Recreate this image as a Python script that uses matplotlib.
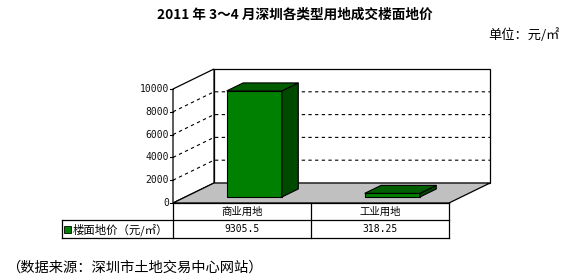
import matplotlib
matplotlib.use("Agg")
import matplotlib.pyplot as plt
from matplotlib.patches import Polygon, Rectangle

plt.rcParams['font.family'] = ['Noto Sans CJK SC', 'DejaVu Sans']

# ---- data ----
title = '2011 年 3～4 月深圳各类型用地成交楼面地价'
unit_text = '单位：元/㎡'
source_text = '（数据来源：深圳市土地交易中心网站）'
series_name = '楼面地价（元/㎡）'
categories = ['商业用地', '工业用地']
prices = [9305.5, 318.25]
y_ticks = [0, 2000, 4000, 6000, 8000, 10000]
y_max = 10000

# ---- layout (pixels) ----
W, H = 573, 280
X0, X1 = 173, 449          # front edge of the floor
Y0 = 203                   # front baseline (value 0)
PLOT_H = 114               # height of the value range
DX, DY = 41, -20           # depth offset of the back wall
BAR_W = 0.40               # bar width as fraction of a category slot
BAR_D0, BAR_D1 = 0.30, 0.70  # bar depth range (fraction of floor depth)

FRONT = '#008000'
TOP = '#005e00'
SIDE = '#004a00'
FLOOR = '#c0c0c0'

fig = plt.figure(figsize=(W / 100, H / 100), dpi=100)
ax = fig.add_axes([0, 0, 1, 1])
ax.set_xlim(0, W)
ax.set_ylim(H, 0)
ax.axis('off')

n = len(categories)
slot = (X1 - X0) / n


def proj(xpix, value, depth):
    """Map a front x position, a value and a depth fraction to pixels."""
    return (xpix + depth * DX, Y0 - value / y_max * PLOT_H + depth * DY)


# back wall
bl = proj(X0, 0, 1); br = proj(X1, 0, 1)
tl = proj(X0, y_max, 1); tr = proj(X1, y_max, 1)
ax.add_patch(Polygon([bl, br, tr, tl], closed=True, facecolor='white',
                     edgecolor='black', lw=0.9, zorder=1))
# left wall
fl0 = proj(X0, 0, 0); fl1 = proj(X0, y_max, 0)
ax.add_patch(Polygon([fl0, bl, tl, fl1], closed=True, facecolor='white',
                     edgecolor='black', lw=0.9, zorder=1))
# floor
fr0 = proj(X1, 0, 0)
ax.add_patch(Polygon([fl0, fr0, br, bl], closed=True, facecolor=FLOOR,
                     edgecolor='black', lw=0.9, zorder=2))

# gridlines on side and back walls, ticks and labels on the front axis
for v in y_ticks:
    a = proj(X0, v, 0); b = proj(X0, v, 1); c = proj(X1, v, 1)
    if 0 < v < y_max:
        ax.plot([a[0], b[0], c[0]], [a[1], b[1], c[1]], color='black',
                lw=0.8, linestyle=(0, (3, 3)), zorder=2)
    ax.plot([a[0] - 3, a[0]], [a[1], a[1]], color='black', lw=0.8, zorder=3)
    ax.text(a[0] - 4, a[1], f'{v}', ha='right', va='center',
            fontsize=7, family='DejaVu Sans Mono', color='#111111')

# bars
for i, v in enumerate(prices):
    cx = X0 + (i + 0.5) * slot
    xl = cx - BAR_W * slot / 2
    xr = cx + BAR_W * slot / 2
    p_fl = proj(xl, 0, BAR_D0); p_fr = proj(xr, 0, BAR_D0)
    p_tl = proj(xl, v, BAR_D0); p_tr = proj(xr, v, BAR_D0)
    q_br = proj(xr, 0, BAR_D1); q_tr = proj(xr, v, BAR_D1)
    q_tl = proj(xl, v, BAR_D1)
    ax.add_patch(Polygon([p_fl, p_fr, p_tr, p_tl], closed=True,
                         facecolor=FRONT, edgecolor='black', lw=0.8, zorder=5))
    ax.add_patch(Polygon([p_fr, q_br, q_tr, p_tr], closed=True,
                         facecolor=SIDE, edgecolor='black', lw=0.8, zorder=5))
    ax.add_patch(Polygon([p_tl, p_tr, q_tr, q_tl], closed=True,
                         facecolor=TOP, edgecolor='black', lw=0.8, zorder=5))

# data table under the chart
T_TOP, T_MID, T_BOT = Y0, 220, 238
T_LEFT = 62
lk = dict(color='black', lw=0.9, zorder=6)
ax.plot([X0, X1], [T_TOP, T_TOP], **lk)
ax.plot([T_LEFT, X1], [T_MID, T_MID], **lk)
ax.plot([T_LEFT, X1], [T_BOT, T_BOT], **lk)
ax.plot([T_LEFT, T_LEFT], [T_MID, T_BOT], **lk)
for k in range(n + 1):
    x = X0 + k * slot
    ax.plot([x, x], [T_TOP, T_BOT], **lk)

for i, (cat, v) in enumerate(zip(categories, prices)):
    cx = X0 + (i + 0.5) * slot
    ax.text(cx, (T_TOP + T_MID) / 2 + 0.5, cat, ha='center', va='center',
            fontsize=7.5, color='black')
    ax.text(cx, (T_MID + T_BOT) / 2 + 0.5, f'{v:g}', ha='center', va='center',
            fontsize=7, family='DejaVu Sans Mono', color='black')

ax.add_patch(Rectangle((T_LEFT + 2, (T_MID + T_BOT) / 2 - 3.5), 7, 7,
                       facecolor=FRONT, edgecolor='black', lw=0.6, zorder=7))
ax.text(T_LEFT + 11, (T_MID + T_BOT) / 2 + 0.5, series_name, ha='left',
        va='center', fontsize=8.2, color='black')

# titles and notes
ax.text(295, 15, title, ha='center', va='center', fontsize=9.8,
        fontweight='bold', color='black')
ax.text(560, 35, unit_text, ha='right', va='center', fontsize=9.5,
        color='black')
ax.text(6, 268, source_text, ha='left', va='center', fontsize=10.3,
        color='black')

fig.savefig('out.png', dpi=100)
